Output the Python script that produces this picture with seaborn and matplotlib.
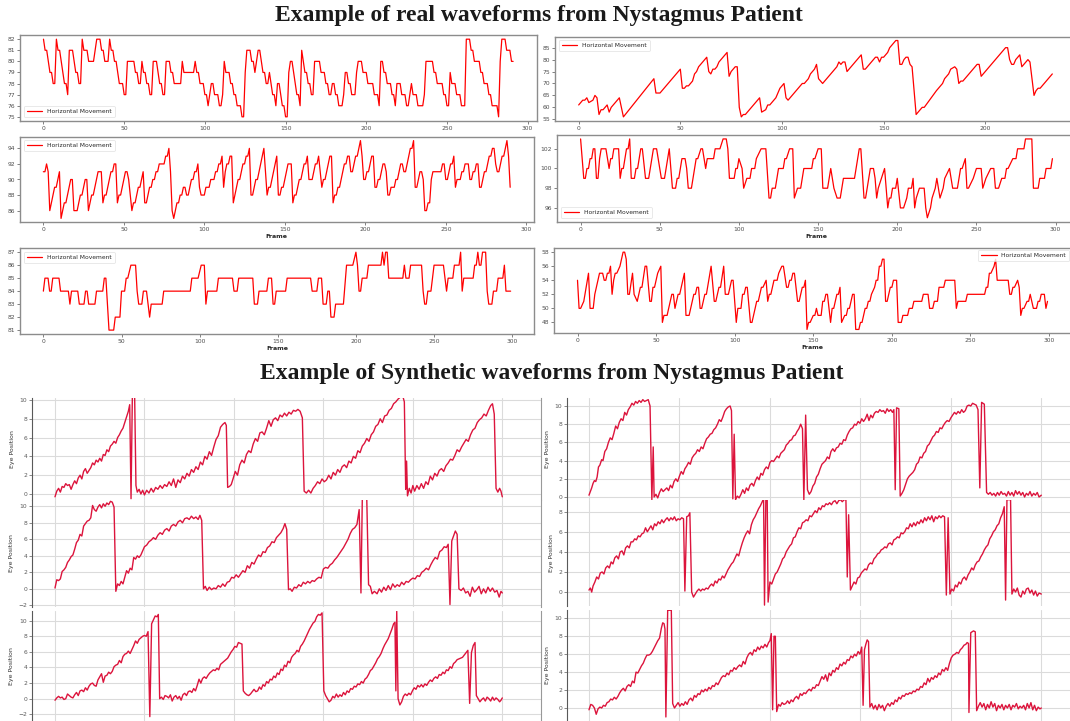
import matplotlib
matplotlib.use("Agg")
import matplotlib.pyplot as plt
from matplotlib.ticker import MultipleLocator
import pandas as pd
import seaborn as sns

# real recordings: (frame, horizontal position) vertices
real_a = [(0,82),(1,81),(2,81),(3,80),(4,79),(5,79),(6,78),(7,78),(8,82),(9,81),(10,81),(11,80),(12,79),(13,78),(14,78),(15,77),(16,81),(18,81),(19,80),(20,79),(21,79),(22,78),(23,78),(24,82),(25,81),(27,81),(28,80),(31,80),(32,81),(33,82),(35,82),(36,81),(37,81),(38,80),(40,80),(41,82),(42,81),(43,81),(44,80),(45,80),(46,79),(47,78),(49,78),(50,77),(51,77),(52,80),(56,80),(57,79),(58,79),(59,78),(60,78),(61,80),(62,79),(63,79),(64,78),(65,78),(66,77),(67,77),(68,80),(70,80),(71,79),(72,78),(73,78),(74,77),(75,77),(76,80),(78,80),(79,79),(80,79),(81,78),(85,78),(86,80),(87,79),(93,79),(94,80),(95,79),(96,79),(97,78),(99,78),(100,77),(101,77),(102,76),(103,77),(104,78),(105,78),(106,77),(108,77),(109,76),(110,76),(111,77),(112,80),(113,79),(115,79),(116,78),(117,78),(118,77),(119,77),(120,76),(122,76),(123,75),(124,75),(125,79),(126,81),(128,81),(129,80),(130,80),(131,79),(132,80),(133,81),(134,81),(135,80),(136,79),(137,79),(138,78),(139,78),(140,79),(141,78),(142,77),(143,77),(144,76),(145,78),(146,78),(147,77),(148,76),(149,76),(150,75),(151,75),(152,79),(153,80),(154,80),(155,79),(156,78),(157,77),(158,77),(159,76),(160,81),(161,80),(162,79),(163,79),(164,78),(165,78),(166,77),(167,77),(168,80),(171,80),(172,79),(174,79),(175,78),(176,78),(177,77),(178,77),(179,78),(180,78),(181,77),(182,77),(183,76),(185,76),(186,77),(187,79),(188,79),(189,78),(190,78),(191,77),(193,77),(194,79),(195,80),(197,80),(198,79),(200,79),(201,78),(204,78),(205,77),(207,77),(208,76),(209,80),(210,80),(211,79),(212,79),(213,78),(215,78),(216,77),(217,77),(218,76),(219,78),(221,78),(222,77),(224,77),(225,76),(226,76),(227,77),(228,78),(229,77),(231,77),(232,76),(235,76),(236,77),(237,80),(241,80),(242,79),(243,79),(244,78),(247,78),(248,77),(249,77),(250,76),(251,76),(252,79),(253,78),(255,78),(256,77),(258,77),(259,76),(261,76),(262,82),(264,82),(265,81),(266,81),(267,80),(270,80),(271,79),(272,79),(273,78),(275,78),(276,77),(277,77),(278,76),(281,76),(282,75),(283,80),(284,82),(286,82),(287,81),(289,81),(290,80),(291,80)]

real_b = [(0,61),(2,63),(3,63),(4,64),(5,62),(7,63),(8,65),(9,64),(10,57),(11,59),(12,59),(13,60),(14,61),(15,58),(16,60),(20,64),(22,56),(37,72),(38,66),(40,66),(50,76),(51,68),(52,68),(53,69),(54,69),(56,71),(57,74),(58,75),(59,77),(61,79),(63,81),(64,75),(65,74),(66,76),(67,76),(68,77),(69,79),(71,81),(73,83),(74,73),(75,75),(77,77),(78,77),(79,60),(80,56),(81,57),(82,57),(89,64),(90,58),(92,59),(93,61),(94,61),(95,62),(97,64),(98,66),(99,68),(100,69),(101,70),(102,64),(103,63),(110,70),(111,70),(112,71),(113,72),(114,74),(115,75),(116,76),(117,78),(118,72),(119,71),(120,70),(123,73),(125,75),(127,77),(128,79),(129,78),(130,79),(131,79),(132,75),(133,76),(139,82),(140,76),(141,76),(143,78),(144,79),(145,80),(146,81),(147,81),(148,79),(149,81),(150,81),(151,82),(152,83),(153,85),(154,86),(155,87),(156,88),(157,88),(158,78),(159,78),(160,80),(161,81),(162,81),(163,78),(164,77),(166,57),(167,58),(169,60),(170,60),(176,67),(179,70),(180,72),(182,74),(183,76),(185,77),(186,76),(187,70),(188,71),(189,71),(196,78),(197,78),(198,73),(199,74),(210,85),(211,85),(212,80),(213,78),(214,78),(215,80),(217,82),(218,77),(219,78),(220,79),(221,80),(222,79),(224,65),(225,67),(226,68),(227,68),(233,74)]

real_c = [(0,91),(1,91),(2,92),(3,91),(4,86),(5,87),(6,88),(7,89),(8,89),(9,90),(10,91),(11,85),(12,86),(13,87),(14,87),(15,88),(16,89),(17,90),(18,90),(19,86),(21,86),(22,87),(23,88),(24,88),(25,89),(26,90),(27,90),(28,86),(29,87),(30,88),(31,88),(32,89),(33,90),(34,91),(36,91),(37,87),(38,88),(39,88),(40,89),(41,90),(42,91),(43,91),(44,92),(45,92),(46,87),(47,88),(48,88),(49,89),(50,90),(51,91),(52,91),(53,90),(54,88),(55,86),(56,87),(57,87),(58,88),(59,89),(60,89),(61,90),(62,91),(63,87),(64,87),(65,88),(66,89),(67,89),(68,90),(69,90),(70,91),(71,91),(72,92),(75,92),(76,93),(77,93),(78,94),(79,91),(80,86),(81,85),(82,86),(83,87),(84,87),(85,88),(86,88),(87,89),(88,89),(89,88),(90,88),(91,89),(92,90),(93,90),(94,91),(95,91),(96,92),(97,89),(98,88),(100,88),(101,89),(103,89),(104,90),(106,90),(107,91),(108,91),(109,92),(110,92),(111,93),(112,89),(113,91),(114,92),(115,92),(116,93),(117,93),(118,87),(119,88),(120,89),(121,90),(122,90),(123,91),(124,92),(125,92),(126,93),(127,93),(128,94),(129,88),(130,88),(131,89),(132,90),(133,90),(134,91),(135,92),(136,93),(137,94),(138,91),(139,88),(140,89),(141,89),(142,90),(143,91),(144,92),(145,93),(146,88),(147,88),(148,89),(149,89),(150,90),(151,91),(152,92),(154,92),(155,87),(156,88),(157,88),(158,89),(159,90),(160,90),(161,91),(162,92),(163,92),(164,93),(165,90),(167,90),(168,91),(169,92),(170,92),(171,93),(172,91),(173,89),(174,90),(175,90),(176,91),(177,92),(178,93),(179,93),(180,87),(181,88),(182,88),(183,89),(184,89),(185,90),(186,91),(187,92),(188,92),(189,93),(190,93),(191,91),(192,91),(193,92),(194,93),(195,93),(196,94),(197,95),(198,93),(199,90),(200,90),(201,91),(202,91),(203,92),(204,93),(205,93),(206,89),(207,89),(208,90),(209,90),(210,91),(211,92),(212,92),(213,91),(214,88),(215,88),(216,89),(218,89),(219,90),(220,90),(221,91),(222,92),(223,92),(224,91),(225,91),(226,92),(227,93),(228,94),(229,94),(230,95),(231,89),(232,89),(233,90),(234,91),(235,91),(236,90),(237,86),(238,86),(239,87),(240,87),(241,90),(242,91),(247,91),(248,92),(249,92),(250,90),(251,90),(252,91),(253,92),(254,92),(255,93),(256,89),(257,90),(259,90),(260,91),(261,91),(262,92),(264,92),(265,90),(266,90),(267,91),(268,91),(269,92),(270,92),(271,89),(272,89),(273,90),(274,91),(275,91),(276,92),(277,93),(278,93),(279,94),(280,94),(281,92),(282,91),(283,91),(284,92),(285,93),(286,93),(287,94),(288,95),(289,93),(290,89)]

real_d = [(0,103),(1,101),(2,99),(3,99),(4,100),(5,100),(6,101),(7,101),(8,102),(9,102),(10,99),(11,99),(12,101),(13,102),(16,102),(17,101),(18,100),(19,101),(20,101),(21,102),(24,102),(25,99),(26,100),(27,100),(28,101),(29,102),(30,102),(31,103),(32,99),(34,99),(35,100),(36,100),(37,101),(38,102),(39,102),(41,99),(43,99),(44,100),(45,101),(46,102),(48,102),(49,101),(51,99),(53,99),(54,100),(55,101),(56,102),(58,98),(60,98),(61,99),(62,99),(63,100),(64,101),(66,101),(67,100),(68,98),(70,98),(71,99),(72,100),(73,101),(74,101),(76,102),(77,102),(78,101),(79,100),(80,101),(84,101),(85,102),(88,102),(90,103),(92,103),(93,102),(94,99),(97,99),(98,100),(99,100),(100,101),(102,100),(103,98),(105,99),(107,99),(108,100),(110,100),(111,101),(114,102),(117,102),(119,97),(120,97),(121,98),(123,98),(124,99),(125,100),(128,100),(129,101),(130,101),(132,102),(134,102),(135,97),(137,98),(139,98),(140,99),(141,100),(146,100),(147,101),(148,101),(150,102),(152,102),(153,98),(156,98),(157,99),(158,100),(160,98),(162,97),(164,97),(165,98),(166,99),(173,99),(174,100),(175,101),(176,102),(177,102),(179,97),(180,97),(181,98),(182,99),(183,100),(185,100),(186,99),(187,97),(188,98),(190,99),(192,100),(193,98),(194,96),(195,97),(196,97),(197,98),(199,98),(200,99),(202,96),(204,96),(206,97),(207,98),(209,98),(210,99),(211,96),(212,97),(214,98),(217,98),(218,96),(219,95),(221,96),(222,97),(224,98),(225,99),(227,97),(229,98),(230,99),(233,100),(235,98),(238,98),(240,100),(241,100),(243,101),(244,98),(245,98),(248,99),(250,100),(253,100),(254,98),(256,99),(259,100),(261,100),(262,98),(264,98),(266,99),(268,99),(269,100),(270,100),(273,101),(275,101),(276,102),(280,102),(281,103),(285,103),(286,98),(289,98),(290,99),(293,99),(294,100),(297,100),(298,101)]

real_e = [(0,84),(1,85),(3,85),(4,84),(5,84),(6,85),(10,85),(11,84),(16,84),(17,83),(18,84),(22,84),(23,83),(26,83),(27,84),(28,84),(29,83),(33,83),(34,84),(38,84),(39,85),(40,85),(42,81),(45,81),(46,82),(49,82),(50,84),(52,84),(53,85),(54,85),(56,86),(59,86),(60,84),(61,83),(63,83),(64,84),(66,84),(68,82),(69,83),(76,83),(77,84),(94,84),(95,85),(99,85),(101,86),(103,86),(104,83),(105,84),(111,84),(112,85),(121,85),(122,84),(124,84),(125,85),(134,85),(135,83),(137,83),(138,84),(143,84),(144,85),(146,85),(147,83),(148,83),(149,84),(155,84),(156,85),(171,85),(172,84),(175,84),(176,85),(178,85),(179,83),(181,83),(182,84),(183,84),(184,82),(186,82),(187,83),(192,83),(194,86),(198,86),(200,87),(201,86),(202,84),(203,84),(204,85),(207,85),(208,86),(216,86),(217,87),(218,86),(219,87),(220,87),(221,85),(230,85),(231,86),(232,85),(234,85),(235,86),(242,86),(243,84),(244,83),(245,83),(246,84),(248,84),(250,86),(256,86),(258,84),(259,85),(262,85),(263,86),(266,86),(267,87),(268,84),(269,85),(275,85),(276,86),(277,86),(278,87),(279,86),(280,86),(281,87),(283,87),(284,84),(285,83),(287,83),(288,84),(290,84),(291,85),(294,85),(295,86),(296,84),(299,84)]

real_f = [(0,54),(1,50),(2,50),(4,51),(7,55),(8,50),(10,50),(11,52),(14,55),(16,55),(17,54),(18,54),(19,55),(20,55),(21,56),(22,52),(23,54),(24,55),(25,55),(27,56),(28,57),(29,58),(30,58),(31,57),(32,52),(33,52),(35,55),(36,52),(38,51),(40,53),(41,53),(43,56),(44,56),(46,51),(47,51),(48,53),(49,53),(51,55),(53,56),(54,48),(55,49),(57,49),(60,52),(61,52),(62,50),(64,52),(65,52),(68,55),(69,49),(71,49),(74,52),(75,52),(76,53),(77,53),(78,50),(79,50),(81,52),(82,52),(85,56),(87,51),(88,51),(90,53),(91,53),(93,56),(94,52),(96,52),(98,54),(99,54),(101,48),(102,50),(104,50),(105,52),(106,52),(107,53),(108,53),(110,48),(111,48),(113,50),(114,51),(115,51),(117,53),(118,53),(120,54),(121,51),(122,52),(123,52),(125,54),(127,54),(128,55),(130,56),(131,56),(133,53),(134,53),(135,54),(136,54),(137,55),(138,55),(140,51),(141,51),(143,53),(144,53),(145,54),(146,47),(147,48),(148,48),(150,49),(151,49),(152,50),(153,49),(155,49),(156,51),(157,51),(158,52),(159,52),(161,48),(162,50),(163,50),(165,52),(166,52),(167,53),(168,48),(170,49),(171,49),(172,50),(173,50),(175,52),(176,52),(177,47),(179,47),(180,48),(181,48),(183,50),(184,50),(185,51),(186,51),(187,52),(189,53),(190,54),(191,54),(192,56),(193,56),(194,57),(195,57),(196,51),(197,51),(199,53),(200,53),(201,54),(203,54),(204,48),(206,48),(207,49),(210,49),(211,50),(213,50),(214,51),(219,51),(220,52),(223,52),(224,50),(226,50),(227,51),(229,51),(230,53),(233,53),(234,54),(240,54),(241,50),(242,51),(247,51),(248,52),(259,52),(260,53),(261,53),(262,55),(263,55),(265,56),(266,57),(267,54),(274,54),(275,52),(276,52),(277,53),(278,53),(280,54),(281,53),(282,49),(283,50),(284,50),(286,51),(287,51),(288,52),(289,51),(290,50),(292,50),(293,51),(294,51),(295,52),(297,52),(298,50),(299,51)]

# synthetic traces: (sample, eye position)
synth_a = [(0,-0.3),(4,0.3),(8,0.6),(12,0.2),(16,0.8),(20,0.7),(24,1.1),(28,0.9),(32,1.0),(36,0.5),(40,1.0),(44,1.4),(48,1.1),(52,1.7),(56,2.0),(60,1.6),(64,2.4),(68,2.7),(72,2.2),(76,2.5),(80,2.8),(84,3.3),(88,3.1),(92,3.6),(96,3.4),(100,3.8),(104,3.5),(108,4.2),(112,4.1),(116,4.7),(120,4.5),(124,5.1),(128,5.3),(132,5.6),(136,5.4),(140,6.0),(144,6.3),(148,6.7),(152,7.0),(156,7.6),(160,8.2),(164,8.8),(167,9.5),(170,-0.5),(173,10.6),(178,10.6),(181,0.9),(184,0.2),(188,0.5),
           (192,0.0),(196,0.4),(200,-0.1),(205,0.4),(210,0.1),(215,0.6),(220,0.2),(225,0.7),(230,0.5),(235,0.9),(240,0.6),(245,1.0),(250,0.8),(255,1.3),(260,0.9),(265,1.6),(270,0.7),(275,1.5),(280,1.2),(285,1.9),(290,1.6),(295,2.2),(300,1.9),(305,2.6),(310,2.3),(315,2.9),(320,2.6),(325,3.4),(330,3.1),(335,4.0),(340,3.7),(345,4.5),(350,4.1),(355,5.0),(360,5.8),(365,6.2),(370,7.1),(375,7.4),(380,7.6),(383,7.3),(386,0.7),(390,0.8),(394,1.0),
           (398,1.6),(403,2.4),(408,2.0),(413,3.1),(418,3.6),(423,3.3),(428,4.2),(433,4.6),(438,4.4),(443,5.3),(448,5.9),(453,5.6),(458,6.5),(463,6.6),(468,6.3),(473,7.0),(478,7.8),(483,7.2),(488,7.9),(493,8.1),(498,7.8),(503,8.4),(508,8.2),(513,8.6),(518,8.3),(523,8.7),(528,8.5),(533,8.9),(538,8.8),(543,9.0),(548,8.8),(553,8.1),(557,0.3),(562,0.1),(567,0.4),(572,0.1),(577,0.6),
           (582,0.9),(587,1.3),(592,1.1),(597,1.6),(602,1.3),(607,1.5),(612,2.0),(617,1.6),(622,2.3),(627,2.0),(632,2.6),(637,2.3),(642,2.9),(647,3.1),(652,2.8),(657,3.5),(662,3.3),(667,4.0),(672,3.8),(677,4.6),(682,4.4),(687,5.1),(692,5.4),(697,5.9),(702,5.6),(707,6.3),(712,6.6),(717,7.2),(722,7.4),(727,8.0),(732,7.6),(737,8.3),(742,8.4),(747,8.9),(752,9.1),(757,9.6),(762,9.8),(767,10.1),(772,10.3),(777,10.5),(781,9.8),(784,0.5),(786,3.5),(788,-0.2),(792,0.6),(796,0.1),(800,0.9),(804,0.3),
           (809,0.9),(814,0.5),(819,1.1),(824,0.6),(829,1.3),(834,1.0),(839,1.9),(844,1.5),(849,2.2),(854,1.9),(859,2.5),(864,2.7),(869,2.4),(874,3.0),(879,3.3),(884,3.7),(889,3.6),(894,4.1),(899,4.7),(904,4.5),(909,5.0),(914,5.4),(919,5.8),(924,5.6),(929,6.3),(934,6.8),(939,7.0),(944,7.6),(949,7.9),(954,8.1),(959,8.5),(964,8.3),(969,8.9),(974,9.4),(978,9.6),(982,8.5),(986,0.6),(990,0.2),(994,0.6),(997,0.3),(1000,-0.3)]

synth_b = [(0,0.2),(3,0.6),(6,1.0),(9,1.5),(12,1.8),(15,1.7),(18,2.2),(21,3.3),(24,3.5),(28,4.1),(31,4.0),(35,5.0),(39,5.3),(43,6.0),(47,6.5),(51,6.3),(55,7.0),(59,7.8),(63,7.5),(67,8.2),(71,8.6),(75,8.4),(79,9.3),(83,9.0),(87,9.6),(91,9.9),(95,10.3),(99,10.1),(103,10.5),(107,10.3),(111,10.6),(115,10.4),(119,10.7),(123,10.5),(127,10.6),(131,10.7),(135,10.0),(139,-0.3),(142,5.5),(144,0.0),(148,0.3),(152,-0.1),
           (156,0.5),(160,0.9),(164,0.6),(168,0.8),(172,1.0),(176,0.7),(180,1.3),(184,1.0),(188,1.7),(192,2.0),(196,1.7),(200,2.3),(204,2.8),(208,2.5),(212,3.1),(216,3.4),(220,3.8),(224,3.6),(228,4.3),(232,4.6),(236,4.8),(240,5.2),(244,5.0),(248,5.5),(252,5.3),(256,5.9),(260,6.4),(264,6.6),(268,6.9),(272,7.0),(276,7.4),(280,7.6),(284,8.0),(288,8.5),(292,8.3),(296,8.8),(300,9.4),(304,9.7),(308,9.9),(312,10.0),(315,9.5),(318,-0.2),(321,6.9),(324,-0.3),(328,0.1),(332,-0.1),
           (336,0.3),(340,0.8),(344,0.4),(348,1.0),(352,0.7),(356,1.3),(360,1.5),(364,1.2),(368,1.8),(372,2.2),(376,1.9),(380,2.6),(384,2.4),(388,3.0),(392,3.3),(396,3.1),(400,3.8),(404,4.0),(408,3.9),(412,4.2),(416,4.5),(420,4.3),(424,4.8),(428,5.0),(432,5.2),(436,5.7),(440,5.9),(444,6.2),(448,6.3),(452,6.7),(456,6.8),(460,7.2),(464,7.5),(468,8.0),(472,7.5),(475,-0.3),(479,9.0),(483,0.8),(487,0.3),(491,0.6),(495,1.2),
           (499,1.5),(503,2.2),(507,2.5),(511,3.1),(515,3.6),(519,3.8),(523,4.0),(527,4.4),(531,4.2),(535,5.0),(539,5.3),(543,5.0),(547,5.4),(551,5.5),(555,5.9),(559,5.8),(563,6.3),(567,6.2),(571,6.8),(575,7.2),(579,7.5),(583,7.6),(587,8.0),(591,7.9),(595,8.3),(599,8.1),(603,8.6),(607,8.3),(611,8.6),(615,9.1),(619,8.4),(623,9.0),(627,8.7),(631,9.2),(635,9.4),(639,9.3),(643,9.6),(647,9.4),(651,9.5),(655,9.2),(659,9.7),(663,9.4),(667,9.6),(671,9.3),(674,9.6),(677,0.8),(680,9.8),(685,9.7),(688,0.1),(692,0.4),(696,0.8),
           (700,1.4),(704,2.0),(708,2.3),(712,2.5),(716,2.7),(720,3.0),(724,3.6),(728,3.8),(732,4.4),(736,4.3),(740,4.8),(744,5.0),(748,5.6),(752,5.8),(756,6.2),(760,6.6),(764,6.8),(768,7.2),(772,7.1),(776,7.6),(780,7.5),(784,7.9),(788,8.2),(792,8.4),(796,8.3),(800,8.7),(804,9.0),(808,9.3),(812,9.1),(816,9.4),(820,9.2),(824,9.6),(828,9.3),(832,9.5),(836,10.0),(840,10.1),(844,10.0),(848,10.3),(852,10.2),(856,10.1),(860,9.6),(864,1.0),(868,10.4),(874,10.2),(879,0.5),(883,0.3),(887,0.5),(891,0.2),(895,0.4),(899,0.1),(903,0.5),(907,0.2),(911,0.6),(915,0.3),(919,0.4),(923,0.1),(927,0.6),(931,0.2),(935,0.5),(939,0.1),(943,0.7),(947,0.3),(951,0.6),(955,0.2),(959,0.5),(963,0.0),(967,0.4),(971,0.2),(975,0.6),(979,0.1),(983,0.4),(987,0.2),(991,0.5),(995,0.0),(1000,0.2)]

synth_c = [(0,0.1),(4,1.1),(8,1.0),(12,1.2),(16,2.1),(20,2.3),(24,2.6),(28,3.2),(32,3.5),(36,3.9),(40,4.1),(44,4.8),(48,5.6),(52,5.9),(56,6.6),(60,6.4),(64,7.6),(68,7.9),(72,8.2),(76,8.3),(80,8.6),(84,10.1),(88,9.6),(92,9.4),(96,9.9),(100,10.2),(104,9.8),(108,10.3),(112,10.0),(116,10.4),(120,10.2),(124,10.6),(128,10.5),(132,9.9),(136,-0.3),(140,0.6),(144,0.4),
           (148,0.9),(152,0.6),(156,1.4),(160,2.2),(164,1.9),(168,2.5),(172,2.3),(176,3.8),(180,3.6),(184,4.0),(188,3.8),(192,4.1),(196,4.6),(200,5.1),(205,5.3),(210,5.7),(215,5.9),(220,6.2),(225,6.0),(230,6.5),(235,6.8),(240,6.6),(245,7.1),(250,7.3),(255,7.0),(260,7.6),(265,7.8),(270,7.6),(275,8.1),(280,8.3),(285,8.0),(290,8.5),(295,8.6),(300,8.4),(305,8.8),(310,8.5),(315,8.7),(320,8.4),(324,8.9),(328,8.3),(332,0.0),(336,0.3),(340,-0.2),
           (345,0.2),(350,-0.1),(355,0.1),(360,0.0),(365,0.4),(370,0.2),(375,0.6),(380,0.3),(385,0.8),(390,0.9),(395,1.4),(400,1.3),(405,1.7),(410,1.4),(415,1.8),(420,2.2),(425,2.0),(430,2.8),(435,2.5),(440,3.2),(445,3.0),(450,3.6),(455,4.1),(460,3.9),(465,4.5),(470,4.4),(475,5.0),(480,5.2),(485,5.7),(490,5.6),(495,6.2),(500,6.5),(505,6.8),(510,7.3),(514,7.9),(518,7.2),(522,-0.1),(526,0.0),(530,-0.3),
           (535,0.2),(540,0.1),(545,0.5),(550,0.3),(555,0.8),(560,0.6),(565,0.9),(570,0.7),(575,1.0),(580,0.9),(585,1.2),(590,1.4),(595,1.3),(600,2.4),(605,2.6),(610,2.5),(615,2.9),(620,3.1),(625,3.5),(630,3.8),(635,4.2),(640,4.6),(645,5.0),(650,5.5),(655,6.0),(660,6.7),(665,7.2),(670,7.4),(675,7.8),(680,9.6),(684,-0.5),(687,10.9),(697,10.9),(701,0.5),(705,0.3),(709,-0.6),(714,-0.3),
           (720,-0.6),(725,0.0),(730,-0.4),(735,0.2),(740,-0.2),(745,0.4),(750,-0.1),(755,0.6),(760,0.2),(765,0.5),(770,0.3),(775,0.8),(780,0.5),(785,0.9),(790,0.8),(795,1.1),(800,1.3),(805,1.2),(810,1.6),(815,1.5),(820,2.0),(825,2.2),(830,2.5),(835,2.3),(840,2.9),(845,3.4),(850,3.8),(855,3.6),(860,4.5),(865,4.7),(870,5.1),(875,5.0),(879,5.4),(883,-1.9),(887,5.8),(891,6.4),(895,7.0),(899,6.6),(903,0.0),(908,-0.2),(913,0.1),(918,-0.5),(923,-0.3),(928,-0.9),(933,0.2),(938,-0.4),(943,-0.1),(948,0.3),(953,-0.6),(958,0.0),(963,-0.5),(968,0.2),(973,-0.3),(978,0.1),(983,-0.4),(988,-0.2),(993,-1.0),(997,-0.3),(1000,-0.5)]

synth_d = [(0,0.2),(3,0.4),(6,0.0),(9,0.6),(13,1.0),(17,1.5),(21,1.3),(25,1.9),(29,2.0),(33,1.8),(37,2.4),(41,2.6),(45,2.4),(49,3.0),(53,2.8),(57,3.4),(61,3.6),(65,3.3),(69,4.0),(73,4.1),(77,3.7),(81,4.4),(85,4.6),(89,4.4),(93,5.0),(97,5.0),(101,5.3),(105,5.2),(109,5.6),(113,5.5),(117,5.8),(121,5.9),(125,6.4),(129,6.0),(133,6.3),(137,6.6),(141,6.2),(145,6.8),(149,6.6),(153,7.0),(157,6.8),(161,7.2),(165,6.9),(169,7.2),(173,7.4),(177,7.1),(181,7.4),(185,7.2),(189,7.5),(193,7.1),(197,7.3),(201,7.2),(205,7.4),(209,7.3),(212,0.1),(216,7.5),(220,7.6),(223,7.9),(227,0.0),(231,-0.5),(235,-0.2),(239,0.1),
           (243,0.3),(247,0.1),(251,0.3),(255,0.2),(259,0.4),(263,0.3),(267,0.6),(271,0.8),(275,0.6),(279,1.1),(283,0.9),(287,1.3),(291,1.2),(295,1.6),(299,1.4),(303,1.8),(307,2.2),(311,2.5),(315,2.8),(319,3.0),(323,3.4),(327,3.8),(331,3.6),(335,4.3),(339,4.9),(343,5.4),(347,5.8),(351,6.1),(355,5.8),(359,6.7),(363,7.2),(367,7.5),(371,7.9),(375,8.3),(379,8.6),(383,9.0),(386,9.3),(388,-1.3),(391,9.3),(394,9.3),(396,-1.0),(400,1.0),(404,0.8),(408,1.3),
           (412,1.8),(416,2.0),(420,2.4),(424,2.8),(428,3.3),(432,3.5),(436,4.0),(440,4.3),(444,4.6),(448,4.8),(452,5.4),(456,5.5),(460,6.0),(464,6.4),(468,6.3),(472,6.9),(476,7.0),(480,7.2),(484,7.1),(488,7.6),(492,7.5),(496,7.8),(500,8.1),(504,7.9),(508,8.4),(512,8.2),(516,8.6),(520,8.5),(524,8.8),(528,8.7),(532,8.9),(536,8.7),(540,9.0),(544,9.1),(548,8.8),(552,9.1),(556,9.2),(560,9.0),(564,9.2),(568,9.2),(571,1.5),(574,7.7),(578,0.2),(582,0.6),(586,1.0),(590,0.8),(594,1.4),
           (598,1.5),(602,1.9),(606,2.1),(610,2.3),(614,2.2),(618,2.7),(622,2.9),(626,2.8),(630,3.3),(634,3.5),(638,3.8),(642,3.9),(646,4.2),(650,4.3),(654,4.5),(658,4.4),(662,4.8),(666,4.9),(670,4.7),(674,5.2),(678,5.3),(682,5.5),(686,5.4),(690,5.9),(694,5.8),(698,6.0),(702,6.4),(706,6.3),(710,6.8),(714,6.5),(718,6.9),(722,6.6),(726,7.0),(730,6.8),(734,7.2),(738,6.9),(742,7.4),(746,7.1),(750,7.5),(754,7.2),(758,7.6),(762,7.0),(766,7.5),(770,7.3),(774,7.6),(778,7.4),(782,7.6),(786,7.5),(790,-0.3),(794,7.4),(798,-0.2),(802,0.3),(806,0.1),(810,0.7),(814,0.5),(818,1.0),
           (822,0.8),(826,1.3),(830,1.5),(834,1.2),(838,1.7),(842,2.0),(846,2.4),(850,2.2),(854,2.7),(858,3.0),(862,3.1),(866,3.5),(870,3.8),(874,4.2),(878,4.5),(882,4.7),(886,5.3),(890,5.6),(894,6.0),(898,6.2),(902,6.6),(906,6.8),(910,7.4),(914,7.8),(918,8.5),(921,-0.8),(924,9.2),(928,9.2),(932,9.2),(935,-0.2),(939,0.3),(943,0.0),(947,0.4),(951,-0.3),(955,-0.5),(959,0.1),(963,-0.2),(967,0.3),(971,0.4),(975,-0.1),(979,0.2),(983,-0.3),(987,0.1),(991,-0.4),(995,-0.1),(1000,-0.2)]

synth_e = [(0,-0.2),(4,0.1),(8,0.3),(12,0.1),(16,0.2),(20,-0.1),(24,0.0),(28,0.6),(32,0.4),(36,0.2),(40,0.1),(44,0.5),(48,0.8),(52,0.4),(56,1.0),(60,1.1),(64,0.9),(68,1.4),(72,1.1),(76,1.6),(80,1.9),(84,2.0),(88,1.7),(92,1.6),(96,2.4),(100,2.8),(104,3.2),(108,2.1),(112,2.9),(116,3.0),(120,3.4),(124,3.2),(128,3.5),(132,4.1),(136,4.3),(140,4.4),(144,4.9),(148,4.6),(152,5.4),(156,5.7),(160,5.8),(164,6.1),(168,5.8),(172,6.3),(176,6.8),(180,7.4),(184,7.1),(188,7.6),(192,7.8),(196,8.0),(200,8.1),(204,8.0),(208,8.6),(212,-2.3),(216,9.6),(220,10.1),(224,10.6),(228,10.5),(231,10.8),(234,0.0),(238,0.2),(242,-0.1),
           (246,0.4),(250,0.3),(254,0.1),(258,0.5),(262,-0.3),(266,0.2),(270,0.4),(274,0.0),(278,0.3),(282,-0.2),(286,0.5),(290,0.7),(294,0.4),(298,0.9),(302,1.0),(306,0.8),(310,1.3),(314,1.0),(318,1.7),(322,2.5),(326,2.0),(330,2.6),(334,2.8),(338,2.6),(342,3.0),(346,3.3),(350,3.5),(354,3.7),(358,3.6),(362,3.9),(366,3.7),(370,4.4),(374,4.6),(378,4.8),(382,5.0),(386,5.2),(390,5.6),(394,6.0),(398,6.3),(402,6.7),(406,6.6),(410,7.2),(414,7.1),(418,7.0),(421,1.0),(425,0.7),(429,0.5),(433,0.4),(437,0.6),(441,0.9),
           (445,1.2),(449,0.9),(453,1.0),(457,1.5),(461,1.2),(465,1.8),(469,1.6),(473,2.2),(477,2.0),(481,2.5),(485,2.4),(489,2.9),(493,2.7),(497,3.3),(501,3.1),(505,3.8),(509,3.6),(513,4.3),(517,4.1),(521,4.8),(525,4.6),(529,5.3),(533,5.6),(537,5.8),(541,6.2),(545,6.0),(549,6.7),(553,7.0),(557,7.4),(561,7.9),(565,8.4),(569,8.9),(573,9.3),(577,9.7),(581,9.9),(585,10.5),(589,10.8),(593,10.7),(597,11.0),(601,1.0),(605,0.4),(609,0.0),(613,-0.4),(617,-0.2),
           (621,0.3),(625,0.1),(629,0.6),(633,0.2),(637,0.5),(641,0.3),(645,0.8),(649,0.5),(653,1.0),(657,0.8),(661,1.3),(665,1.2),(669,1.6),(673,1.5),(677,1.9),(681,1.8),(685,2.2),(689,2.0),(693,2.5),(697,2.7),(701,3.1),(705,3.6),(709,3.8),(713,4.2),(717,4.6),(721,5.1),(725,5.4),(729,5.8),(733,6.4),(737,6.9),(741,7.3),(745,7.7),(749,8.3),(753,8.9),(757,9.6),(760,9.8),(762,1.0),(764,11.2),(767,0.0),(771,-0.8),(775,-0.4),(779,0.3),(783,0.6),
           (787,0.4),(791,0.7),(795,0.5),(799,1.0),(803,1.4),(807,1.2),(811,1.7),(815,1.5),(819,1.8),(823,1.5),(827,1.9),(831,1.7),(835,2.1),(839,2.4),(843,2.2),(847,2.6),(851,2.8),(855,2.6),(859,3.1),(863,3.0),(867,3.4),(871,3.2),(875,3.7),(879,3.6),(883,4.1),(887,3.9),(891,4.5),(895,4.7),(899,5.0),(903,5.1),(907,5.2),(911,5.3),(915,5.6),(919,5.9),(923,6.2),(927,-0.6),(931,5.9),(935,6.8),(939,7.2),(942,0.4),(946,0.0),(950,-0.4),(954,-0.1),(958,0.1),(962,-0.3),(966,0.2),(970,0.0),(974,-0.3),(978,0.2),(982,-0.2),(986,0.1),(990,-0.1),(994,-0.4),(997,-0.2),(1000,0.1)]

synth_f = [(0,-0.2),(4,0.4),(8,0.3),(12,0.0),(16,-0.7),(20,-0.1),(24,0.1),(28,0.0),(32,0.3),(36,0.2),(40,0.6),(44,0.7),(48,1.0),(52,0.9),(56,1.2),(60,1.0),(64,1.3),(68,1.7),(72,2.0),(76,2.2),(80,1.9),(84,2.4),(88,2.6),(92,2.4),(96,3.0),(100,2.8),(104,4.0),(108,3.9),(112,4.3),(116,4.7),(120,5.0),(124,5.5),(128,5.9),(132,5.9),(136,6.0),(140,6.3),(144,6.7),(148,7.1),(152,7.5),(156,7.8),(160,8.9),(163,9.5),(166,9.4),(168,8.8),(170,-1.0),(174,10.9),(182,10.9),(185,0.5),(189,0.0),(193,0.3),(197,0.6),
           (201,0.2),(205,0.5),(209,0.3),(213,0.7),(217,0.4),(221,0.9),(225,1.1),(229,0.8),(233,1.4),(237,1.2),(241,1.6),(245,1.5),(249,2.0),(253,1.8),(257,2.1),(261,1.9),(265,2.3),(269,2.1),(273,2.5),(277,2.4),(281,2.8),(285,2.6),(289,3.0),(293,3.4),(297,3.6),(301,3.5),(305,3.9),(309,3.7),(313,4.2),(317,4.1),(321,4.5),(325,4.3),(329,4.6),(333,4.8),(337,4.6),(341,5.2),(345,4.9),(349,5.6),(353,6.0),(357,6.2),(361,5.9),(365,6.5),(369,6.3),(373,6.8),(377,6.5),(381,6.9),(385,6.7),(389,7.1),(393,6.8),(397,7.3),(400,7.5),(403,8.3),(406,-0.2),(409,8.0),(412,8.0),(415,-0.4),(419,0.4),(423,0.2),(427,0.6),(431,0.4),
           (435,0.5),(439,0.8),(443,0.5),(447,0.9),(451,0.7),(455,1.1),(459,1.3),(463,1.0),(467,1.6),(471,1.4),(475,1.7),(479,1.6),(483,1.9),(487,2.1),(491,1.9),(495,2.3),(499,2.2),(503,2.6),(507,2.5),(511,3.0),(515,3.5),(519,3.2),(523,3.7),(527,3.0),(531,3.9),(535,3.6),(539,4.2),(543,4.0),(547,4.5),(551,4.3),(555,4.9),(559,4.7),(563,5.1),(567,4.9),(571,5.4),(575,5.3),(579,5.8),(583,5.6),(587,6.0),(591,5.8),(595,6.3),(599,6.0),(603,6.8),(606,0.3),(609,6.5),(612,7.1),(615,7.6),(618,7.4),(621,0.1),(625,0.5),(629,-0.1),(633,0.3),(637,-0.2),(641,0.4),(645,0.0),(649,0.3),(653,-0.3),(657,0.2),(661,0.5),
           (665,0.2),(669,0.6),(673,0.4),(677,0.9),(681,0.7),(685,1.2),(689,1.0),(693,1.4),(697,1.3),(701,1.6),(705,1.5),(709,1.7),(713,1.6),(717,1.9),(721,1.8),(725,2.1),(729,2.0),(733,2.4),(737,2.3),(741,2.8),(745,2.6),(749,3.3),(753,2.9),(757,3.4),(761,3.2),(765,3.6),(769,3.4),(773,3.9),(777,3.7),(781,4.3),(785,4.1),(789,4.5),(793,4.2),(797,5.0),(801,5.6),(805,5.9),(809,6.0),(813,6.2),(817,6.1),(821,6.5),(825,6.7),(829,7.0),(833,7.1),(836,7.3),(839,7.2),(840,-0.5),(844,8.4),(850,8.6),(854,8.5),(857,-0.3),(861,0.2),(865,0.6),(869,0.1),(873,0.5),(877,-0.2),(881,0.4),(885,0.0),(889,0.7),(893,0.1),(897,0.5),(901,-0.3),(905,0.3),(909,0.0),(913,0.4),(917,-0.2),(921,0.3),(925,0.0),(929,0.4),(933,-0.2),(937,0.3),(941,0.1),(945,0.5),(949,-0.1),(953,0.2),(957,0.0),(961,0.3),(965,-0.2),(969,0.5),(973,0.0),(977,0.6),(981,-0.2),(985,0.3),(989,-0.3),(993,0.1),(997,-0.1),(1000,0.0)]

real_title = "Example of real waveforms from Nystagmus Patient"
synth_title = "Example of Synthetic waveforms from Nystagmus Patient"
legend_label = "Horizontal Movement"

W, H = 1070, 721
fig = plt.figure(figsize=(W / 100, H / 100), dpi=100)
fig.patch.set_facecolor("white")


def add_box(left, top, right, bottom):
    # axes placed in figure pixel coordinates (screenshot collage)
    return fig.add_axes([left / W, 1 - bottom / H, (right - left) / W, (bottom - top) / H])


# (data, pixel box, y step, legend placement, show "Frame")
real_layout = [
    (real_a, (20, 35.3, 536.6, 120.7), 1, dict(loc="lower left"), False),
    (real_b, (555, 36.7, 1076, 120.7), 5, dict(loc="upper left"), False),
    (real_c, (20, 136.7, 533.5, 222.3), 2, dict(loc="upper left"), True),
    (real_d, (557, 135, 1076, 221.7), 2, dict(loc="lower left"), True),
    (real_e, (20, 248.3, 534, 334), 1, dict(loc="upper left"), True),
    (real_f, (554, 248.3, 1071, 333.3), 2, dict(loc="upper right", borderaxespad=0.3), True),
]

with sns.axes_style("ticks"):
    for pts, box, ystep, leg, show_xlabel in real_layout:
        ax = add_box(*box)
        df = pd.DataFrame(pts, columns=["Frame", "value"])
        sns.lineplot(data=df, x="Frame", y="value", ax=ax, color="#ff0000", linewidth=0.9,
                     estimator=None, sort=False, label=legend_label)
        ax.margins(x=0.05, y=0.05)
        ax.xaxis.set_major_locator(MultipleLocator(50))
        ax.yaxis.set_major_locator(MultipleLocator(ystep))
        ax.tick_params(labelsize=4.3, length=2, width=0.5, pad=1.5, colors="0.3")
        for sp in ax.spines.values():
            sp.set_color("0.55")
            sp.set_linewidth(1.0)
        ax.set_ylabel("")
        if show_xlabel:
            ax.set_xlabel("Frame", fontsize=4.5, fontweight="bold", labelpad=1.5)
        else:
            ax.set_xlabel("")
        opts = dict(fontsize=4.3, frameon=True, handlelength=2.6, borderpad=0.5, borderaxespad=0.6)
        opts.update(leg)
        lg = ax.legend(**opts)
        lg.get_frame().set_edgecolor("0.85")
        lg.get_frame().set_linewidth(0.5)

# (data, pixel box, x limits, y limits, column)
synth_layout = [
    (synth_a, (32, 398, 541, 500), (-51.4, 1086.5), (-0.64, 10.21), "left"),
    (synth_b, (567, 398, 1070, 500), (-48.6, 1063.4), (-0.33, 10.88), "right"),
    (synth_c, (32, 500, 541, 607), (-51.4, 1086.5), (-2.2, 10.76), "left"),
    (synth_d, (567, 500, 1070, 606), (-48.6, 1063.4), (-1.39, 9.17), "right"),
    (synth_e, (32, 611, 541, 721), (-51.4, 1086.5), (-2.86, 11.24), "left"),
    (synth_f, (567, 610, 1070, 721), (-48.6, 1063.4), (-1.45, 10.93), "right"),
]

with sns.axes_style("whitegrid"):
    for pts, box, xlim, ylim, col in synth_layout:
        ax = add_box(*box)
        df = pd.DataFrame(pts, columns=["sample", "Eye Position"])
        sns.lineplot(data=df, x="sample", y="Eye Position", ax=ax, color="#dc143c",
                     linewidth=1.0, estimator=None, sort=False, legend=False)
        ax.set_xlim(*xlim)
        ax.set_ylim(*ylim)
        ax.xaxis.set_major_locator(MultipleLocator(200))
        ax.yaxis.set_major_locator(MultipleLocator(2))
        ax.grid(True, color="0.86", linewidth=0.8)
        ax.tick_params(axis="x", labelbottom=False, length=0)
        ax.tick_params(axis="y", labelsize=4.3, length=2, width=0.5, pad=1.5,
                       colors="0.35", left=True)
        ax.set_xlabel("")
        ax.set_ylabel("Eye Position", fontsize=4.5, color="0.2", labelpad=3)
        ax.spines["top"].set_visible(False)
        ax.spines["bottom"].set_visible(False)
        ax.spines["left"].set_color("0.35")
        ax.spines["left"].set_linewidth(0.8)
        ax.spines["right"].set_visible(col == "left")
        ax.spines["right"].set_color("0.6")

fig.text(539 / W, 1 - 16 / H, real_title, ha="center", va="center", fontsize=17,
         fontweight="bold", family=["Liberation Serif", "DejaVu Serif"], color="0.1")
fig.text(552 / W, 1 - 374 / H, synth_title, ha="center", va="center", fontsize=17,
         fontweight="bold", family=["Liberation Serif", "DejaVu Serif"], color="0.1")

fig.savefig("out.png", dpi=100, facecolor="white")
